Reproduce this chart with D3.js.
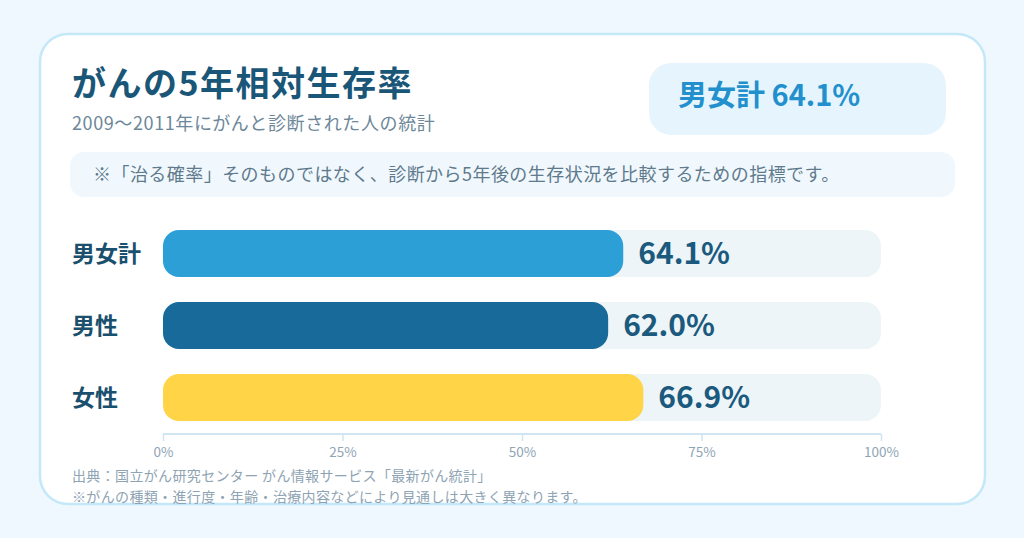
<!DOCTYPE html>
<html>
<head>
<meta charset="utf-8">
<script src="https://cdn.jsdelivr.net/npm/d3@7"></script>
<style>
  html, body { margin: 0; padding: 0; background: #eef8fe; }
  svg { display: block; font-family: "Noto Sans CJK JP", "Noto Sans", sans-serif; }
</style>
</head>
<body>
<script>
// data
var categories = ["男女計", "男性", "女性"];
var rates = [64.1, 62.0, 66.9];
var barColors = ["#2b9fd6", "#176a99", "#ffd447"];
var tickValues = [0, 25, 50, 75, 100];

var titleText = "がんの5年相対生存率";
var subtitleText = "2009〜2011年にがんと診断された人の統計";
var noteText = "※「治る確率」そのものではなく、診断から5年後の生存状況を比較するための指標です。";
var badgeText = "男女計 64.1%";
var footnotes = [
  "出典：国立がん研究センター がん情報サービス「最新がん統計」",
  "※がんの種類・進行度・年齢・治療内容などにより見通しは大きく異なります。"
];

var width = 1024,
  height = 538;

var svg = d3
  .select("body")
  .append("svg")
  .attr("width", width)
  .attr("height", height);

svg.append("rect").attr("width", width).attr("height", height).attr("fill", "#eef8fe");

// card
svg
  .append("rect")
  .attr("x", 40)
  .attr("y", 34)
  .attr("width", 945)
  .attr("height", 470)
  .attr("rx", 28)
  .attr("fill", "#ffffff")
  .attr("stroke", "#c4e8f8")
  .attr("stroke-width", 2.5);

// title
svg
  .append("text")
  .attr("x", 72)
  .attr("y", 96)
  .attr("fill", "#1a5677")
  .style("font-size", "34px")
  .style("font-weight", 700)
  .style("letter-spacing", "1.5px")
  .text(titleText);

svg
  .append("text")
  .attr("x", 72)
  .attr("y", 130)
  .attr("fill", "#6d8799")
  .style("font-size", "18px")
  .style("letter-spacing", "0.6px")
  .text(subtitleText);

// badge
svg
  .append("rect")
  .attr("x", 649)
  .attr("y", 63)
  .attr("width", 297)
  .attr("height", 72)
  .attr("rx", 22)
  .attr("fill", "#e6f5fd");

svg
  .append("text")
  .attr("x", 678)
  .attr("y", 106)
  .attr("fill", "#2290cc")
  .style("font-size", "29px")
  .style("font-weight", 700)
  .text(badgeText);

// note box
svg
  .append("rect")
  .attr("x", 70)
  .attr("y", 152)
  .attr("width", 885)
  .attr("height", 45)
  .attr("rx", 14)
  .attr("fill", "#f0f8fd");

svg
  .append("text")
  .attr("x", 93)
  .attr("y", 181)
  .attr("fill", "#5f7a8c")
  .style("font-size", "18px")
  .style("letter-spacing", "0.45px")
  .text(noteText);

// scales
var x = d3.scaleLinear().domain([0, 100]).range([163, 881]);

var y = d3
  .scaleBand()
  .domain(categories)
  .range([230, 421])
  .paddingInner(0.347)
  .paddingOuter(0);

var rows = svg
  .append("g")
  .selectAll("g")
  .data(categories)
  .enter()
  .append("g");

// track
rows
  .append("rect")
  .attr("x", x(0))
  .attr("y", function (d) {
    return y(d);
  })
  .attr("width", x(100) - x(0))
  .attr("height", y.bandwidth())
  .attr("rx", 16)
  .attr("fill", "#edf5f9");

// bars
rows
  .append("rect")
  .attr("x", x(0))
  .attr("y", function (d) {
    return y(d);
  })
  .attr("width", function (d, i) {
    return x(rates[i]) - x(0);
  })
  .attr("height", y.bandwidth())
  .attr("rx", 16)
  .attr("fill", function (d, i) {
    return barColors[i];
  });

// category labels
rows
  .append("text")
  .attr("x", 72)
  .attr("y", function (d) {
    return y(d) + y.bandwidth() / 2;
  })
  .attr("dy", "0.36em")
  .attr("fill", "#1a4f6e")
  .style("font-size", "23px")
  .style("font-weight", 700)
  .text(function (d) {
    return d;
  });

// value labels
rows
  .append("text")
  .attr("x", function (d, i) {
    return x(rates[i]) + 15;
  })
  .attr("y", function (d) {
    return y(d) + y.bandwidth() / 2;
  })
  .attr("dy", "0.36em")
  .attr("fill", "#1b5a7d")
  .style("font-size", "30px")
  .style("font-weight", 700)
  .text(function (d, i) {
    return rates[i].toFixed(1) + "%";
  });

// axis
var axis = svg
  .append("g")
  .attr("transform", "translate(0,434)")
  .call(
    d3
      .axisBottom(x)
      .tickValues(tickValues)
      .tickSize(7)
      .tickPadding(6)
      .tickFormat(function (d) {
        return d + "%";
      })
  );

axis.select(".domain").attr("stroke", "#cfe6f2").attr("stroke-width", 2).attr("d", "M163,0H881");
axis.selectAll(".tick line").attr("stroke", "#cfe6f2").attr("stroke-width", 1.5);
axis
  .selectAll(".tick text")
  .attr("fill", "#8fa5b5")
  .style("font-size", "13.5px")
  .style("font-family", "'Noto Sans CJK JP', sans-serif");

// footnotes
svg
  .append("g")
  .selectAll("text")
  .data(footnotes)
  .enter()
  .append("text")
  .attr("x", 72)
  .attr("y", function (d, i) {
    return 481 + i * 21;
  })
  .attr("fill", "#8ea3b3")
  .style("font-size", "14px")
  .style("letter-spacing", "0.35px")
  .text(function (d) {
    return d;
  });
</script>
</body>
</html>
